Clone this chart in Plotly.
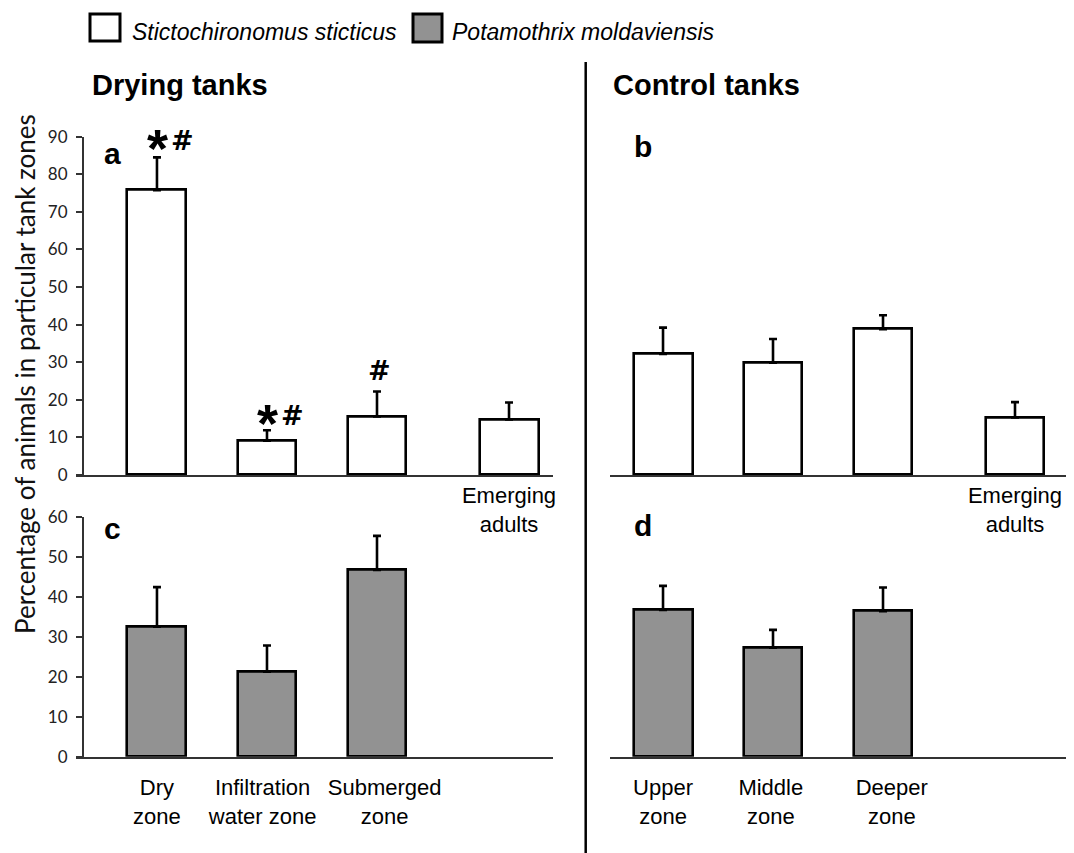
import plotly.graph_objects as go

# ---------------- data ----------------
drying_larvae_cats = ["Dry zone", "Infiltration water zone", "Submerged zone", "Emerging adults"]
drying_larvae_mean = [75.8, 9.1, 15.6, 14.8]
drying_larvae_errtop = [84.5, 11.9, 22.2, 19.3]

control_larvae_cats = ["Upper zone", "Middle zone", "Deeper zone", "Emerging adults"]
control_larvae_mean = [32.2, 29.9, 38.8, 15.3]
control_larvae_errtop = [39.2, 36.2, 42.5, 19.4]

drying_worm_mean = [32.5, 21.25, 46.7]
drying_worm_errtop = [42.4, 27.8, 55.2]

control_worm_mean = [36.7, 27.25, 36.4]
control_worm_errtop = [42.7, 31.7, 42.3]

# category positions on the axis (gap before "Emerging adults")
positions = [0, 1, 2, 3.2]

bottom_drying_labels = ["Dry<br>zone", "Infiltration<br>water zone", "Submerged<br>zone"]
bottom_control_labels = ["Upper<br>zone", "Middle<br>zone", "Deeper<br>zone"]
top_label = ["Emerging<br>adults"]

legend_names = ["Stictochironomus sticticus", "Potamothrix moldaviensis"]

# ---------------- styling ----------------
W, H = 1074, 853
OFF = 8  # page body margin
WHITE = "white"
GREY = "#929292"
ARIAL = "Liberation Sans"
TICKFONT = "Lato"

def px_x(x):
    return (x - OFF) / W

def px_y(y):
    return 1 - (y - OFF) / H

fig = go.Figure()

def add_bars(xaxis, yaxis, mean, errtop, color, name, n):
    pos = positions[:n]
    fig.add_trace(go.Bar(
        x=pos, y=mean, width=0.536,
        marker=dict(color=color, line=dict(color="black", width=2.6)),
        error_y=dict(type="data", symmetric=False,
                     array=[e - m for e, m in zip(errtop, mean)],
                     arrayminus=[0] * n,
                     color="black", thickness=2.6, width=4),
        xaxis=xaxis, yaxis=yaxis, name=name, showlegend=False,
    ))

add_bars("x", "y", drying_larvae_mean, drying_larvae_errtop, WHITE, legend_names[0], 4)
add_bars("x2", "y2", control_larvae_mean, control_larvae_errtop, WHITE, legend_names[0], 4)
add_bars("x3", "y3", drying_worm_mean, drying_worm_errtop, GREY, legend_names[1], 3)
add_bars("x4", "y4", control_worm_mean, control_worm_errtop, GREY, legend_names[1], 3)

dom_left = [px_x(76), px_x(552.7)]
dom_right = [px_x(610), px_x(1070)]
dom_top = [px_y(475), px_y(136.7)]
dom_bot = [px_y(756.7), px_y(516.7)]
range_left = [-0.736, 3.597]
range_right = [-0.482, 3.7]

axline = dict(showline=True, linecolor="#333333", linewidth=1.6, showgrid=False, zeroline=False, automargin=False)
xtickfont = dict(family=ARIAL, size=22, color="black")
ytickfont = dict(family=TICKFONT, size=17, color="#222222")

fig.update_layout(
    template="none",
    width=W, height=H, margin=dict(l=0, r=0, t=0, b=0, pad=0, autoexpand=False),
    paper_bgcolor="white", plot_bgcolor="white",
    bargap=0, showlegend=False,
    xaxis=dict(domain=dom_left, range=range_left, anchor="y", tickvals=[positions[3]], ticktext=top_label,
               ticks="", tickfont=xtickfont, ticklabelstandoff=0, **axline),
    yaxis=dict(domain=dom_top, range=[0, 90], anchor="free", position=px_x(82.7), tickvals=list(range(0, 91, 10)),
               ticks="outside", ticklen=6, tickwidth=1.6, tickcolor="#333333", tickfont=ytickfont,
               ticklabelstandoff=5, **axline),
    xaxis2=dict(domain=dom_right, range=range_right, anchor="y2", tickvals=[positions[3]], ticktext=top_label,
                ticks="", tickfont=xtickfont, ticklabelstandoff=0, **axline),
    yaxis2=dict(domain=dom_top, range=[0, 90], anchor="x2", visible=False, automargin=False),
    xaxis3=dict(domain=dom_left, range=range_left, anchor="y3",
                tickvals=[p + o for p, o in zip(positions[:3], [0.0, -0.04, 0.07])],
                ticktext=bottom_drying_labels, ticks="", tickfont=xtickfont, ticklabelstandoff=10, **axline),
    yaxis3=dict(domain=dom_bot, range=[0, 60], anchor="free", position=px_x(82.7), tickvals=list(range(0, 61, 10)),
                ticks="outside", ticklen=6, tickwidth=1.6, tickcolor="#333333", tickfont=ytickfont,
                ticklabelstandoff=5, **axline),
    xaxis4=dict(domain=dom_right, range=range_right, anchor="y4",
                tickvals=[p + o for p, o in zip(positions[:3], [0.0, -0.02, 0.08])],
                ticktext=bottom_control_labels, ticks="", tickfont=xtickfont, ticklabelstandoff=10, **axline),
    yaxis4=dict(domain=dom_bot, range=[0, 60], anchor="x4", visible=False, automargin=False),
)

ann = []
# section titles
ann.append(dict(text="<b>Drying tanks</b>", x=px_x(90), y=px_y(85), xref="paper", yref="paper",
                xanchor="left", yanchor="middle", showarrow=False, font=dict(family=ARIAL, size=29, color="black")))
ann.append(dict(text="<b>Control tanks</b>", x=px_x(611), y=px_y(85), xref="paper", yref="paper",
                xanchor="left", yanchor="middle", showarrow=False, font=dict(family=ARIAL, size=29, color="black")))
# panel letters
for letter, xp, yp in [("a", 102, 153), ("b", 632, 147), ("c", 102, 528), ("d", 632, 525)]:
    ann.append(dict(text="<b>%s</b>" % letter, x=px_x(xp), y=px_y(yp), xref="paper", yref="paper",
                    xanchor="left", yanchor="middle", showarrow=False, font=dict(family=ARIAL, size=30, color="black")))
# y axis title
ann.append(dict(text="Percentage of animals in particular tank zones", x=px_x(25), y=px_y(374),
                xref="paper", yref="paper", xanchor="center", yanchor="middle", textangle=-90, showarrow=False,
                borderpad=0, font=dict(family=TICKFONT, size=26, color="#111111")))
# significance marks (asterisk / hash) above drying-tank larvae bars
sig = [(0, "*#", 84.5, 17), (1, "*#", 11.9, 15), (2, "#", 22.2, 21)]
HASHFONT = dict(family="DejaVu Sans", size=27, color="black")
for idx, marks, top, lift in sig:
    if marks == "*#":
        ann.append(dict(text="<b>*</b>", x=positions[idx], y=top, xref="x", yref="y", xanchor="center",
                        yanchor="middle", xshift=1, yshift=lift - 8, showarrow=False,
                        font=dict(family=ARIAL, size=54, color="black")))
        ann.append(dict(text="<b>#</b>", x=positions[idx], y=top, xref="x", yref="y", xanchor="center",
                        yanchor="middle", xshift=26, yshift=lift, showarrow=False, font=HASHFONT))
    else:
        ann.append(dict(text="<b>#</b>", x=positions[idx], y=top, xref="x", yref="y", xanchor="center",
                        yanchor="middle", xshift=2, yshift=lift, showarrow=False, font=HASHFONT))
# legend text
ann.append(dict(text="<i>%s</i>" % legend_names[0], x=px_x(130), y=px_y(32), xref="paper", yref="paper",
                xanchor="left", yanchor="middle", showarrow=False, font=dict(family=ARIAL, size=23, color="black")))
ann.append(dict(text="<i>%s</i>" % legend_names[1], x=px_x(450), y=px_y(32), xref="paper", yref="paper",
                xanchor="left", yanchor="middle", showarrow=False, font=dict(family=ARIAL, size=23, color="black")))

shapes = [
    dict(type="rect", xref="paper", yref="paper", x0=px_x(90), x1=px_x(120), y0=px_y(41), y1=px_y(14),
         fillcolor=WHITE, line=dict(color="black", width=3)),
    dict(type="rect", xref="paper", yref="paper", x0=px_x(413), x1=px_x(442), y0=px_y(42), y1=px_y(14),
         fillcolor=GREY, line=dict(color="black", width=3)),
    dict(type="line", xref="paper", yref="paper", x0=px_x(585.7), x1=px_x(585.7), y0=px_y(62), y1=px_y(853),
         line=dict(color="black", width=2.5)),
]

fig.update_layout(annotations=ann, shapes=shapes)
fig.write_html("out.html")
